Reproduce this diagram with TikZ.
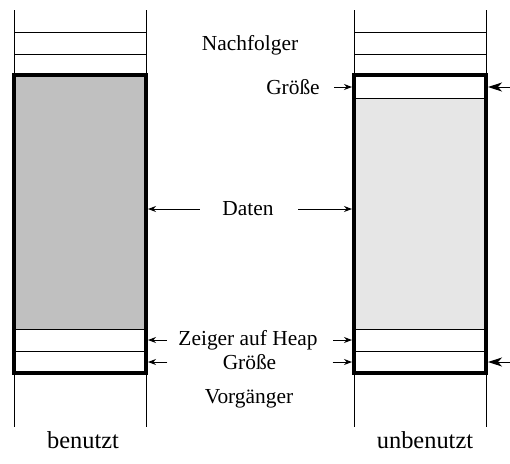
\documentclass[tikz,border=0pt]{standalone}
\usepackage{fontspec}
\setmainfont{Liberation Serif}
\usetikzlibrary{positioning,arrows.meta}
\definecolor{usedgray}{RGB}{192,192,192}
\definecolor{freegray}{RGB}{230,230,230}
\tikzset{
  chunk/.style={draw,line width=2pt,minimum width=66pt,minimum height=149pt,inner sep=0pt},
  lbl/.style={font=\fontsize{10.7}{12}\selectfont,inner sep=0pt},
  caption/.style={font=\fontsize{12.2}{14}\selectfont,inner sep=0pt},
  arr/.style={-{Stealth[length=4pt,width=3pt]},line width=0.5pt},
  bigarr/.style={-{Stealth[length=7pt,width=4.5pt,inset=2pt]},line width=0.5pt}
}
\begin{document}
\begin{tikzpicture}[x=0.5pt,y=-0.5pt,line width=0.5pt]
  \useasboundingbox (0,0) rectangle (510,463);
  % fillings
  \fill[usedgray] (14,75) rectangle (146,329);
  \fill[freegray] (354,98) rectangle (486,329);
  % neighbour chunks above and below
  \foreach \x in {14,146,354,486} {
    \draw (\x,10) -- (\x,75);
    \draw (\x,373) -- (\x,427);
  }
  \foreach \y in {32,54,329,351} {
    \draw (14,\y) -- (146,\y);
    \draw (354,\y) -- (486,\y);
  }
  \draw (354,98) -- (486,98);
  % the two chunks
  \node[chunk] (used) at (80,224) {};
  \node[chunk] (free) at (420,224) {};
  % labels
  \node[lbl] (next)   at (250,45)  {Nachfolger};
  \node[lbl] (sizeT)  at (293,87)  {Größe};
  \node[lbl] (data)   at (248,209) {Daten};
  \node[lbl] (heap)   at (248,340) {Zeiger auf Heap};
  \node[lbl] (sizeB)  at (249.5,362) {Größe};
  \node[lbl] (prev)   at (249,399) {Vorgänger};
  \node[caption] (usedl)  at (83,440)  {benutzt};
  \node[caption] (freel)  at (425,440) {unbenutzt};
  \coordinate (edgeT) at (510,87);
  \coordinate (edgeB) at (510,362);
  % arrows
  \draw[arr,shorten <=7pt] (sizeT.east) -- (free.west |- sizeT);
  \draw[arr,shorten <=11pt] (data.west) -- (used.east |- data);
  \draw[arr,shorten <=12pt] (data.east) -- (free.west |- data);
  \draw[arr,shorten <=5.5pt] (heap.west) -- (used.east |- heap);
  \draw[arr,shorten <=7.5pt] (heap.east) -- (free.west |- heap);
  \draw[arr,shorten <=27.5pt] (sizeB.west) -- (used.east |- sizeB);
  \draw[arr,shorten <=28pt] (sizeB.east) -- (free.west |- sizeB);
  \draw[bigarr] (edgeT) -- (free.east |- edgeT);
  \draw[bigarr] (edgeB) -- (free.east |- edgeB);
\end{tikzpicture}
\end{document}
